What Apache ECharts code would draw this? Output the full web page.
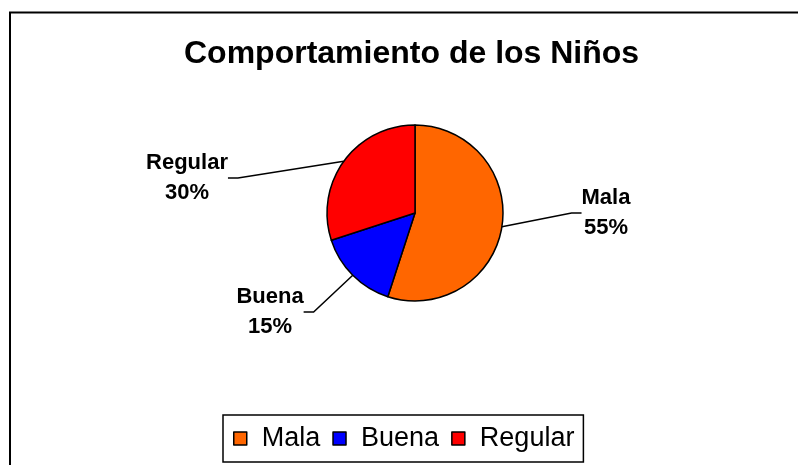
<!DOCTYPE html>
<html>
<head>
<meta charset="utf-8">
<script src="https://cdn.jsdelivr.net/npm/echarts@6/dist/echarts.min.js"></script>
<style>
  body { margin: 0; background: #fff; }
  #chart { width: 798px; height: 465px; }
</style>
</head>
<body>
<div id="chart"></div>
<script>
// datos del grafico
const categorias = ["Mala", "Buena", "Regular"];
const valores = [55, 15, 30];
const colores = ["#FF6600", "#0000FF", "#FF0000"];

// posicion de las etiquetas (centro del bloque de texto)
const etiquetaPos = [
  [606, 213],
  [270, 312],
  [187, 178]
];

const myChart = echarts.init(document.getElementById("chart"));

myChart.setOption({
  backgroundColor: "#fff",
  animation: false,
  title: {
    text: "Comportamiento de los Niños",
    left: 179,
    top: 33,
    textStyle: {
      fontFamily: "Liberation Sans",
      fontWeight: "bold",
      fontSize: 32,
      color: "#000"
    }
  },
  legend: {
    data: categorias,
    left: 223,
    top: 415,
    orient: "horizontal",
    padding: [10, 9, 10, 10],
    itemGap: 12,
    itemWidth: 13,
    itemHeight: 13,
    borderColor: "#000",
    borderWidth: 1.5,
    icon: "rect",
    itemStyle: { borderColor: "#000", borderWidth: 1.5 },
    textStyle: {
      fontFamily: "Liberation Sans",
      fontSize: 27,
      color: "#000",
      padding: [0, 0, 0, 10]
    }
  },
  graphic: [
    {
      type: "rect",
      shape: { x: 10, y: 12.5, width: 820, height: 480 },
      style: { fill: null, stroke: "#000", lineWidth: 2 },
      silent: true
    }
  ],
  series: [
    {
      type: "pie",
      center: [415, 213],
      radius: 88,
      startAngle: 90,
      clockwise: true,
      data: categorias.map((c, i) => ({
        name: c,
        value: valores[i],
        itemStyle: { color: colores[i] }
      })),
      itemStyle: { borderColor: "#000", borderWidth: 1.5 },
      emphasis: { disabled: true },
      label: {
        show: true,
        formatter: "{b}\n{c}%",
        fontFamily: "Liberation Sans",
        fontWeight: "bold",
        fontSize: 22,
        lineHeight: 30,
        color: "#000",
        align: "center"
      },
      labelLine: {
        show: true,
        length: 10,
        length2: 10,
        smooth: false,
        lineStyle: { color: "#000", width: 1.5 }
      },
      labelLayout: function (params) {
        const p = etiquetaPos[params.dataIndex];
        return { x: p[0], y: p[1], align: "center", verticalAlign: "middle" };
      }
    }
  ]
});
</script>
</body>
</html>
